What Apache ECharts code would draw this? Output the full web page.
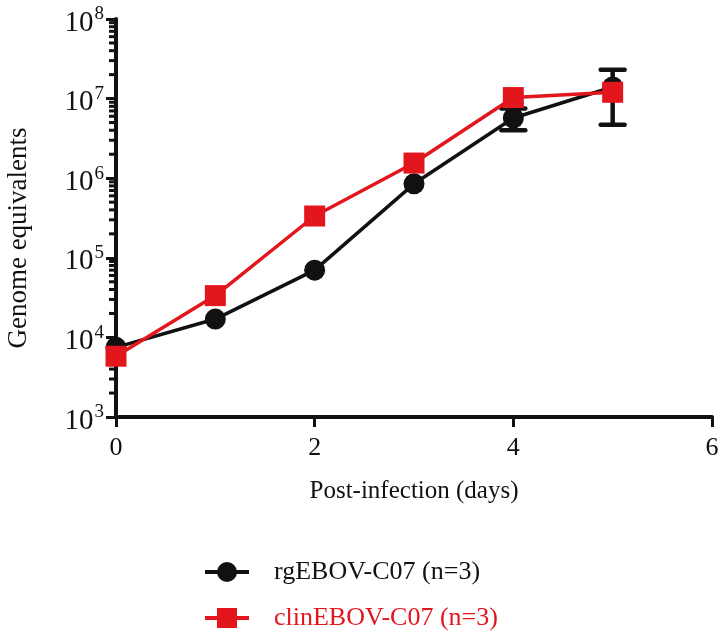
<!DOCTYPE html>
<html>
<head>
<meta charset="utf-8">
<script src="https://cdn.jsdelivr.net/npm/echarts@6/dist/echarts.min.js"></script>
<style>
  html, body { margin: 0; padding: 0; background: #fff; }
  #chart { width: 719px; height: 633px; }
</style>
</head>
<body>
<div id="chart"></div>
<script>
const days = [0, 1, 2, 3, 4, 5]
const rgEBOV = [7500, 17000, 70000, 850000, 5700000, 14000000]
// error bars only stick out of the markers on days 4 and 5
const rgLow = [null, null, null, null, 4000000, 4700000]
const rgHigh = [null, null, null, null, 7500000, 23000000]
const clinEBOV = [5800, 33500, 335000, 1550000, 10300000, 12000000]
const xTicks = [0, 2, 4, 6]

const FONT = '"Liberation Serif", "DejaVu Serif", serif'
const INK = '#111111'
const RED = '#E3161D'

// log minor ticks 2..9 in every decade
const minorVals = []
for (let k = 3; k < 8; k++) {
    for (let m = 2; m <= 9; m++) minorVals.push(m * Math.pow(10, k))
}

const chart = echarts.init(document.getElementById('chart'))
chart.setOption({
    animation: false,
    backgroundColor: '#fff',
    textStyle: { fontFamily: FONT, color: INK },
    grid: { left: 116, right: 7, top: 19, bottom: 216, outerBoundsMode: 'none', containLabel: false },
    legend: {
        orient: 'vertical',
        left: 203,
        top: 559,
        padding: 0,
        itemWidth: 44,
        itemHeight: 25,
        itemGap: 20,
        lineStyle: { width: 4 },
        data: [
            { name: 'rgEBOV-C07 (n=3)', textStyle: { color: INK } },
            { name: 'clinEBOV-C07 (n=3)', textStyle: { color: RED } }
        ],
        textStyle: { fontFamily: FONT, fontSize: 26, padding: [0, 0, 0, 20] }
    },
    xAxis: {
        type: 'value',
        min: 0,
        max: 6,
        interval: 2,
        name: 'Post-infection (days)',
        nameLocation: 'middle',
        nameGap: 62,
        nameTextStyle: { fontFamily: FONT, fontSize: 25, color: INK },
        axisLine: { onZero: false, lineStyle: { color: INK, width: 4 } },
        axisTick: { length: 10, lineStyle: { color: INK, width: 3 } },
        axisLabel: {
            margin: 18, fontFamily: FONT, fontSize: 26, color: INK,
            customValues: xTicks
        },
        splitLine: { show: false }
    },
    yAxis: {
        type: 'log',
        logBase: 10,
        min: 1000,
        max: 100000000,
        name: 'Genome equivalents',
        nameLocation: 'middle',
        nameGap: 84,
        nameTextStyle: { fontFamily: FONT, fontSize: 27, color: INK, padding: [0, 40, 0, 0] },
        axisLine: { onZero: false, lineStyle: { color: INK, width: 4 } },
        axisTick: { length: 10, lineStyle: { color: INK, width: 3 } },
        axisLabel: {
            margin: 12,
            formatter: v => '{b|10}{s|' + Math.round(Math.log10(v)) + '}',
            rich: {
                b: { fontFamily: FONT, fontSize: 29, color: INK, lineHeight: 28, padding: [8, 1, 0, 0] },
                s: { fontFamily: FONT, fontSize: 19, color: INK, verticalAlign: 'top', lineHeight: 28 }
            }
        },
        splitLine: { show: false }
    },
    series: [
        {
            name: 'minor',
            type: 'custom',
            silent: true,
            clip: false,
            z: 1,
            data: minorVals.map(v => [0, v]),
            renderItem: (params, api) => {
                const p = api.coord([0, api.value(1)])
                return {
                    type: 'line',
                    shape: { x1: p[0] - 7, y1: p[1], x2: p[0], y2: p[1] },
                    style: { stroke: INK, lineWidth: 3 }
                }
            }
        },
        {
            name: 'rgErr',
            type: 'custom',
            silent: true,
            clip: false,
            z: 2,
            data: days.map((d, i) => [d, rgLow[i] ?? '-', rgHigh[i] ?? '-']),
            renderItem: (params, api) => {
                if (isNaN(api.value(1)) || isNaN(api.value(2))) return null
                const lo = api.coord([api.value(0), api.value(1)])
                const hi = api.coord([api.value(0), api.value(2)])
                const w = 12
                const st = { stroke: INK, lineWidth: 4.5 }
                return {
                    type: 'group',
                    children: [
                        { type: 'line', shape: { x1: lo[0], y1: lo[1], x2: hi[0], y2: hi[1] }, style: st },
                        { type: 'line', shape: { x1: lo[0] - w, y1: lo[1], x2: lo[0] + w, y2: lo[1] }, style: { ...st, lineCap: 'round' } },
                        { type: 'line', shape: { x1: hi[0] - w, y1: hi[1], x2: hi[0] + w, y2: hi[1] }, style: { ...st, lineCap: 'round' } }
                    ]
                }
            }
        },
        {
            name: 'rgEBOV-C07 (n=3)',
            type: 'line',
            z: 3,
            symbol: 'circle',
            symbolSize: 21,
            data: days.map((d, i) => [d, rgEBOV[i]]),
            lineStyle: { color: INK, width: 3.5 },
            itemStyle: { color: INK }
        },
        {
            name: 'clinEBOV-C07 (n=3)',
            type: 'line',
            z: 4,
            symbol: 'rect',
            symbolSize: 21,
            data: days.map((d, i) => [d, clinEBOV[i]]),
            lineStyle: { color: RED, width: 3.5 },
            itemStyle: { color: RED }
        }
    ]
})
</script>
</body>
</html>
